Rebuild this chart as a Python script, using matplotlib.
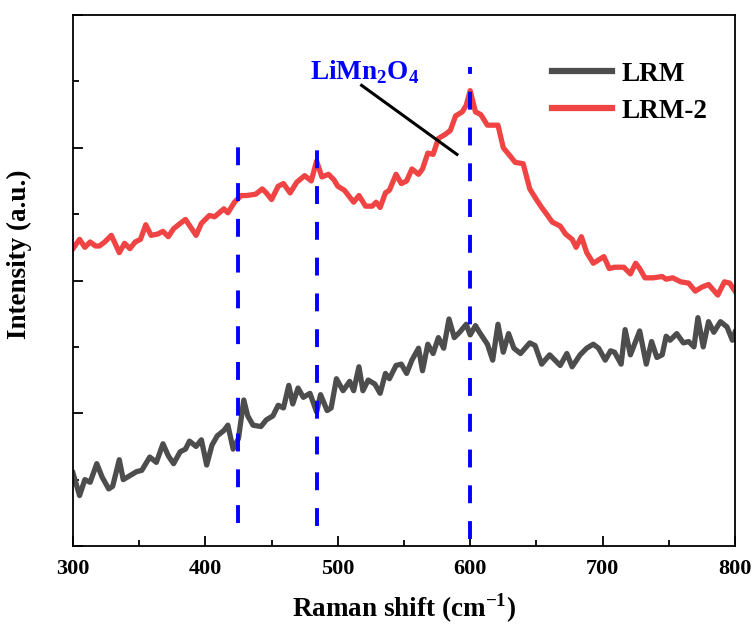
import matplotlib
matplotlib.use("Agg")
import matplotlib.pyplot as plt
from matplotlib.ticker import MultipleLocator, NullFormatter


plt.rcParams["font.family"] = ["Liberation Serif", "DejaVu Serif"]
plt.rcParams["font.weight"] = "bold"
plt.rcParams["mathtext.fontset"] = "custom"
plt.rcParams["mathtext.rm"] = "Liberation Serif:bold"
plt.rcParams["mathtext.bf"] = "Liberation Serif:bold"

# LRM-2 spectrum
lrm2_x = [300, 305, 309, 313, 317, 320, 324, 329, 335, 339, 343, 347, 351, 355,
          359, 364, 368, 372, 376, 381, 385, 393, 397, 403, 407, 414, 417, 422,
          427, 431, 438, 443, 446, 450, 455, 459, 464, 469, 475, 480, 484, 488,
          493, 497, 500, 505, 512, 516, 521, 526, 529, 532, 536, 539, 544, 548,
          552, 556, 561, 564, 568, 572, 576, 581, 585, 589, 594, 597, 600, 604,
          608, 613, 616, 621, 625, 630, 634, 640, 645, 650, 654, 657, 662, 668,
          672, 677, 680, 684, 688, 693, 701, 705, 709, 716, 721, 725, 728, 732,
          738, 745, 748, 753, 759, 765, 770, 775, 780, 787, 792, 796, 800]
lrm2_y = [2.24, 2.31, 2.25, 2.29, 2.26, 2.26, 2.29, 2.34, 2.21, 2.28, 2.24, 2.29,
          2.31, 2.42, 2.34, 2.35, 2.37, 2.33, 2.39, 2.43, 2.46, 2.34, 2.43, 2.49,
          2.48, 2.54, 2.51, 2.59, 2.64, 2.64, 2.65, 2.69, 2.66, 2.61, 2.71, 2.73,
          2.66, 2.74, 2.79, 2.75, 2.90, 2.78, 2.80, 2.76, 2.71, 2.68, 2.59, 2.64,
          2.56, 2.56, 2.59, 2.55, 2.66, 2.68, 2.80, 2.73, 2.75, 2.84, 2.80, 2.84,
          2.96, 2.95, 3.07, 3.10, 3.13, 3.24, 3.27, 3.32, 3.43, 3.27, 3.25, 3.17,
          3.17, 3.17, 3.00, 2.94, 2.89, 2.88, 2.69, 2.61, 2.55, 2.51, 2.44, 2.41,
          2.35, 2.31, 2.25, 2.33, 2.21, 2.13, 2.18, 2.09, 2.10, 2.10, 2.05, 2.13,
          2.09, 2.02, 2.02, 2.03, 2.01, 2.02, 1.99, 1.98, 1.92, 1.95, 1.97, 1.89,
          1.99, 1.98, 1.92]

# LRM spectrum
lrm_x = [300, 305, 309, 313, 318, 322, 327, 330, 335, 338, 343, 348, 352, 358,
         363, 368, 372, 376, 381, 385, 388, 393, 397, 401, 405, 409, 414, 417,
         421, 425, 429, 432, 436, 442, 446, 451, 455, 459, 463, 466, 470, 474,
         479, 484, 487, 492, 495, 499, 504, 509, 512, 516, 519, 523, 528, 532,
         536, 539, 544, 548, 552, 556, 561, 564, 568, 572, 576, 580, 584, 588,
         592, 597, 600, 604, 607, 613, 617, 621, 625, 629, 633, 638, 645, 649,
         654, 660, 668, 673, 677, 683, 688, 693, 697, 702, 706, 709, 714, 717,
         721, 728, 733, 737, 741, 745, 748, 751, 756, 761, 765, 769, 772, 776,
         780, 784, 789, 794, 798, 800]
lrm_y = [0.55, 0.38, 0.50, 0.48, 0.62, 0.52, 0.43, 0.45, 0.65, 0.50, 0.53, 0.56,
         0.57, 0.67, 0.63, 0.77, 0.68, 0.62, 0.71, 0.73, 0.79, 0.75, 0.80, 0.61,
         0.76, 0.83, 0.87, 0.91, 0.73, 0.81, 1.10, 0.98, 0.91, 0.90, 0.95, 0.98,
         1.06, 1.04, 1.21, 1.07, 1.19, 1.12, 1.15, 1.01, 1.14, 1.02, 1.04, 1.26,
         1.17, 1.24, 1.17, 1.35, 1.17, 1.25, 1.22, 1.15, 1.30, 1.26, 1.36, 1.37,
         1.30, 1.40, 1.49, 1.32, 1.52, 1.45, 1.57, 1.49, 1.71, 1.57, 1.61, 1.67,
         1.59, 1.66, 1.61, 1.52, 1.40, 1.67, 1.46, 1.60, 1.49, 1.45, 1.53, 1.51,
         1.37, 1.44, 1.36, 1.45, 1.35, 1.44, 1.49, 1.52, 1.49, 1.40, 1.47, 1.46,
         1.37, 1.63, 1.44, 1.62, 1.37, 1.54, 1.42, 1.44, 1.58, 1.55, 1.60, 1.53,
         1.54, 1.50, 1.72, 1.50, 1.69, 1.61, 1.69, 1.65, 1.55, 1.61]

# marked peak positions (dashed lines)
peak_x = [425, 484, 600]
peak_ymin = [0.17, 0.15, 0.05]
peak_ymax = [3.08, 3.05, 3.61]

LRM_COLOR = "#4d4d4d"
LRM2_COLOR = "#f04444"


fig = plt.figure(figsize=(7.52, 6.25), dpi=100)
ax = fig.add_axes([0.097, 0.1264, 0.8804, 0.8496])

ax.plot(lrm_x, lrm_y, color=LRM_COLOR, lw=3.8, label="LRM", solid_joinstyle="round")
ax.plot(lrm2_x, lrm2_y, color=LRM2_COLOR, lw=3.8, label="LRM-2", solid_joinstyle="round")

for px, y0, y1 in zip(peak_x, peak_ymin, peak_ymax):
    ax.plot([px, px], [y0, y1], color="#0000ff", lw=2.8, dashes=(4.6, 4.6))

ax.plot([518, 590], [3.47, 2.95], color="black", lw=2.2)
ax.text(520, 3.57, r"LiMn$_\mathbf{2}$O$_\mathbf{4}$", color="#0000ff",
        fontsize=19.5, fontweight="bold", ha="center", va="center")

ax.set_xlim(300, 800)
ax.set_ylim(0, 4)
ax.xaxis.set_major_locator(MultipleLocator(100))
ax.xaxis.set_minor_locator(MultipleLocator(50))
ax.yaxis.set_major_locator(MultipleLocator(1))
ax.yaxis.set_minor_locator(MultipleLocator(0.5))
ax.yaxis.set_major_formatter(NullFormatter())
ax.tick_params(axis="both", which="major", direction="in", length=7, width=1.3,
               labelsize=16, pad=9)
ax.tick_params(axis="both", which="minor", direction="in", length=4, width=1.3)
for lab in ax.get_xticklabels():
    lab.set_fontweight("bold")
for sp in ax.spines.values():
    sp.set_linewidth(1.3)

ax.set_xlabel(r"Raman shift (cm$^\mathbf{-1}$)", fontsize=19.5, fontweight="bold", labelpad=9)
ax.set_ylabel("Intensity (a.u.)", fontsize=19.5, fontweight="bold")
ax.yaxis.set_label_coords(-0.062, 0.55)

ax.legend(loc="upper left", bbox_to_anchor=(0.7236, 0.912), frameon=False,
          borderpad=0, borderaxespad=0, handlelength=2.2, handletextpad=0.35,
          labelspacing=0.45, prop={"weight": "bold", "size": 19.5})
for h in ax.get_legend().get_lines():
    h.set_linewidth(4.5)

fig.savefig("out.png", dpi=100)
